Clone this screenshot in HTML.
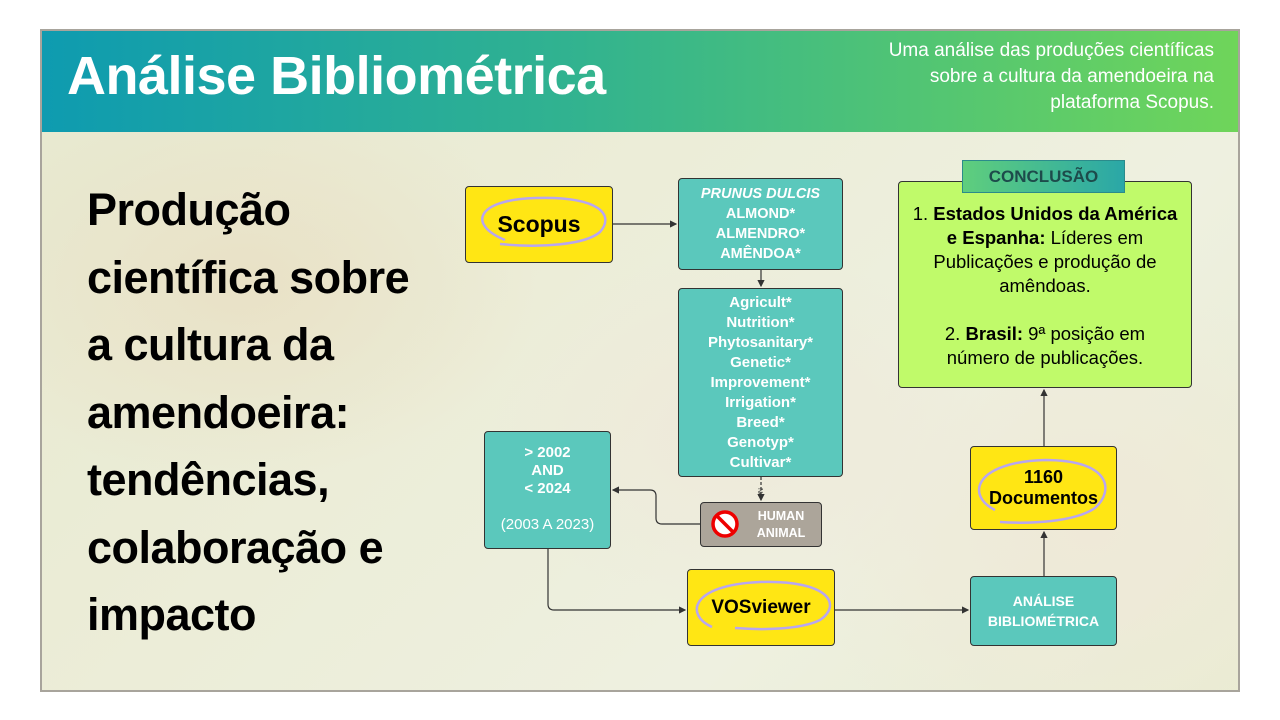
<!DOCTYPE html>
<html><head><meta charset="utf-8"><style>
*{margin:0;padding:0;box-sizing:border-box}
body{width:1280px;height:720px;background:#fff;position:relative;overflow:hidden;font-family:"Liberation Sans",sans-serif}
#frame{position:absolute;left:40px;top:29px;width:1200px;height:663px;border:2px solid #a8a49c;overflow:hidden;
background:radial-gradient(ellipse 300px 200px at 200px 250px,#e9e1c6 0%,transparent 100%),
radial-gradient(ellipse 250px 180px at 700px 400px,#eee9da 0%,transparent 100%),
radial-gradient(ellipse 300px 250px at 1050px 500px,#efe9d8 0%,transparent 100%),
linear-gradient(135deg,#e7e9cf 0%,#ecedd8 40%,#eef0e0 70%,#e9ecd2 100%)}
#hdr{position:absolute;left:0;top:0;width:1196px;height:101px;background:linear-gradient(90deg,#0e9bb0 0%,#32b38f 45%,#6fd55a 100%)}
#hdr h1{position:absolute;left:25px;top:14px;color:#fff;font-size:54px;font-weight:bold;letter-spacing:-0.5px}
#hdr p{position:absolute;right:24px;top:7px;color:#fff;font-size:19px;text-align:right;line-height:26px}
.b{position:absolute;border:1.5px solid #333;border-radius:4px;display:flex;flex-direction:column;align-items:center;justify-content:center;text-align:center}
.y{background:#ffe614;font-weight:bold;color:#000}
.t{background:#5bc8bc;color:#fff;font-weight:bold;font-size:14.5px;line-height:20px}
#left{position:absolute;left:87px;top:176px;font-size:45px;font-weight:bold;line-height:67.5px;color:#000;letter-spacing:-0.5px}
</style></head><body>
<div id="frame">
<div id="hdr"><h1>Análise Bibliométrica</h1><p>Uma análise das produções científicas<br>sobre a cultura da amendoeira na<br>plataforma Scopus.</p></div>
</div>
<div id="left">Produção<br>científica sobre<br>a cultura da<br>amendoeira:<br>tendências,<br>colaboração e<br>impacto</div>

<div class="b y" style="left:465px;top:186px;width:148px;height:77px;font-size:23px">Scopus</div>
<div class="b t" style="left:678px;top:178px;width:165px;height:92px"><i>PRUNUS DULCIS</i>ALMOND*<br>ALMENDRO*<br>AMÊNDOA*</div>
<div class="b t" style="left:678px;top:288px;width:165px;height:189px;font-size:15px">Agricult*<br>Nutrition*<br>Phytosanitary*<br>Genetic*<br>Improvement*<br>Irrigation*<br>Breed*<br>Genotyp*<br>Cultivar*</div>
<div class="b" style="left:700px;top:502px;width:122px;height:45px;background:#aca59a;color:#fff;font-weight:bold;font-size:12.5px;line-height:17px;padding-left:40px">HUMAN<br>ANIMAL</div>
<div class="b t" style="left:484px;top:431px;width:127px;height:118px;justify-content:flex-start;padding-top:12px;font-size:15px;line-height:18px">&gt; 2002<br>AND<br>&lt; 2024<br><span style="font-weight:normal;margin-top:18px">(2003 A 2023)</span></div>
<div class="b y" style="left:687px;top:569px;width:148px;height:77px;font-size:19px">VOSviewer</div>
<div class="b t" style="left:970px;top:576px;width:147px;height:70px;font-size:14px">ANÁLISE<br>BIBLIOMÉTRICA</div>
<div class="b y" style="left:970px;top:446px;width:147px;height:84px;font-size:18px;line-height:21px">1160<br>Documentos</div>
<div class="b" style="left:898px;top:181px;width:294px;height:207px;background:#c0fa6a;color:#000;font-size:18.5px;line-height:24px;justify-content:flex-start;padding-top:20px"><div>1. <b>Estados Unidos da América<br>e Espanha:</b> Líderes em<br>Publicações e produção de<br>amêndoas.<br><br>2. <b>Brasil:</b> 9ª posição em<br>número de publicações.</div></div>
<div style="position:absolute;left:962px;top:160px;width:163px;height:33px;background:linear-gradient(90deg,#5fce7d,#2aa7a7);border:1px solid #2b8b8b;color:#1d4b4b;font-weight:bold;font-size:17px;text-align:center;line-height:32px">CONCLUSÃO</div>

<svg width="1280" height="720" style="position:absolute;left:0;top:0" fill="none">
<defs><marker id="a" markerWidth="6" markerHeight="6" refX="5" refY="3" orient="auto"><path d="M0,0L6,3L0,6z" fill="#333"/></marker></defs>
<g stroke="#333" stroke-width="1.2">
<path d="M613 224H676" marker-end="url(#a)"/>
<path d="M761 270V286" marker-end="url(#a)"/>
<path d="M761 477V500" marker-end="url(#a)" stroke-dasharray="3 2"/>
<path d="M700 524H662Q656 524 656 518V496Q656 490 650 490H613" marker-end="url(#a)"/>
<path d="M548 549V604Q548 610 554 610H685" marker-end="url(#a)"/>
<path d="M835 610H968" marker-end="url(#a)"/>
<path d="M1044 576V532" marker-end="url(#a)"/>
<path d="M1044 446V390" marker-end="url(#a)"/>
</g>
<g stroke="#b8a6f0" stroke-width="2.5">
<path d="M505 240C468 225 475 200 535 198C600 196 615 215 600 232C585 245 540 248 500 244"/>
<path d="M712 627C685 615 690 585 760 582C830 580 842 605 820 620C800 630 760 630 735 628"/>
<path d="M995 510C965 495 975 462 1045 460C1110 460 1115 490 1095 508C1075 522 1030 524 1000 522"/>
</g>
<circle cx="725" cy="524" r="12" stroke="#e00" stroke-width="3.5" fill="#fff"/>
<path d="M717 516L733 532" stroke="#e00" stroke-width="3.5"/>
<text x="758" y="488" font-size="7" fill="#333" transform="rotate(90 758 488)" font-family="Liberation Sans">No</text>
</svg>
</body></html>
